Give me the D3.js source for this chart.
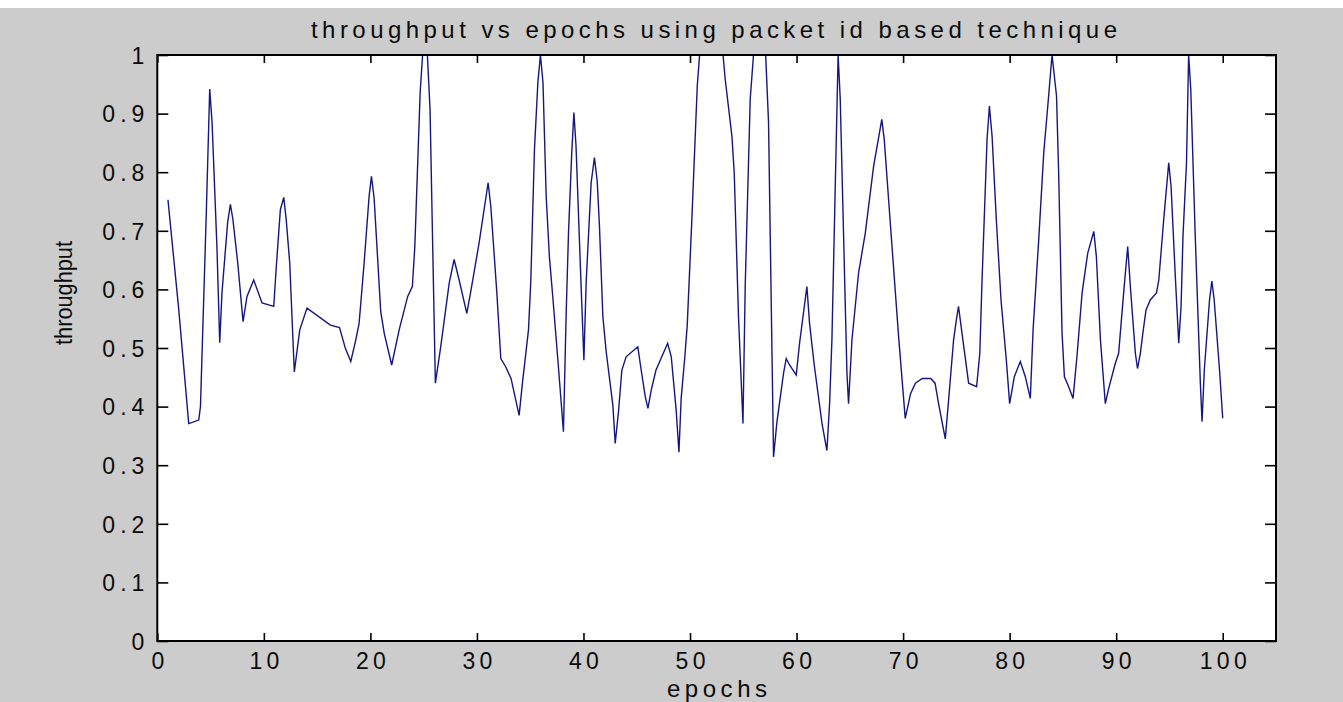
<!DOCTYPE html>
<html>
<head>
<meta charset="utf-8">
<script src="https://cdn.jsdelivr.net/npm/d3@7"></script>
<style>
  html, body { margin: 0; padding: 0; background: #cccccc; }
  svg { display: block; }
  text { font-family: "Liberation Sans", Arial, sans-serif; fill: #0a0a0a; }
</style>
</head>
<body>
<svg id="chart" width="1343" height="702"></svg>
<script>
const titleText = "throughput vs epochs using packet id based technique";
const xLabelText = "epochs";
const yLabelText = "throughput";

const xTicks = [0, 10, 20, 30, 40, 50, 60, 70, 80, 90, 100];
const xTickLabels = ["0", "10", "20", "30", "40", "50", "60", "70", "80", "90", "100"];
const yTicks = [0, 0.1, 0.2, 0.3, 0.4, 0.5, 0.6, 0.7, 0.8, 0.9, 1];
const yTickLabels = ["0", "0.1", "0.2", "0.3", "0.4", "0.5", "0.6", "0.7", "0.8", "0.9", "1"];

const epochs = [
  1.0, 2.0, 2.95, 3.89, 4.05, 4.6, 4.92, 5.14, 5.6, 5.86,
  6.07, 6.6, 6.86, 7.1, 7.55, 8.05, 8.42, 9.05, 9.83, 10.93,
  11.17, 11.55, 11.87, 12.1, 12.43, 12.86, 13.37, 14.05, 16.25, 17.1,
  17.66, 18.16, 18.63, 18.94, 19.4, 19.88, 20.1, 20.35, 20.97, 21.3,
  22.0, 22.7, 23.5, 23.94, 24.17, 24.67, 24.9, 25.35, 25.6, 25.8,
  26.1, 26.6, 27.4, 27.86, 28.33, 29.05, 29.4, 30.2, 31.05, 31.3,
  31.87, 32.24, 32.7, 33.2, 33.96, 34.27, 34.84, 35.06, 35.4, 35.72,
  35.96, 36.2, 36.5, 36.8, 37.13, 37.6, 38.12, 38.38, 38.6, 38.9,
  39.1, 39.3, 39.72, 40.04, 40.25, 40.72, 41.03, 41.29, 41.5, 41.82,
  42.13, 42.76, 42.98, 43.3, 43.6, 44.0, 45.1, 45.42, 45.8, 46.05,
  46.36, 46.8, 47.9, 48.24, 48.7, 48.96, 49.17, 49.5, 49.74, 50.2,
  50.68, 50.9, 53.1, 53.3, 53.93, 54.15, 54.55, 54.97, 55.18, 55.65,
  55.96, 57.1, 57.37, 57.84, 58.16, 58.78, 59.03, 59.34, 59.97, 60.28,
  60.97, 61.22, 61.66, 62.39, 62.85, 63.1, 63.32, 63.9, 64.1, 64.73,
  64.88, 65.2, 65.82, 66.45, 67.23, 68.0, 68.23, 68.8, 69.58, 70.2,
  70.7, 71.15, 71.8, 72.6, 73.0, 73.33, 73.96, 74.27, 74.74, 75.0,
  75.2, 75.53, 76.15, 76.9, 77.2, 77.4, 77.88, 78.1, 78.35, 78.75,
  79.19, 79.69, 80.0, 80.44, 81.0, 81.47, 81.94, 82.2, 82.73, 83.2,
  83.66, 83.98, 84.4, 84.6, 84.92, 85.14, 85.54, 85.95, 86.33, 86.8,
  87.33, 87.9, 88.14, 88.52, 88.98, 89.3, 89.92, 90.23, 90.7, 91.08,
  91.33, 91.8, 92.0, 92.27, 92.5, 92.8, 93.2, 93.78, 94.0, 94.46,
  94.93, 95.15, 95.55, 95.87, 96.09, 96.27, 96.6, 96.8, 97.0, 97.42,
  97.9, 98.06, 98.27, 98.76, 98.98, 99.2, 99.7, 100.0
];

const throughput = [
  0.753, 0.568, 0.371, 0.377, 0.400, 0.731, 0.942, 0.885, 0.671, 0.509,
  0.594, 0.714, 0.745, 0.719, 0.645, 0.545, 0.588, 0.616, 0.577, 0.571,
  0.639, 0.736, 0.757, 0.719, 0.645, 0.459, 0.531, 0.568, 0.539, 0.535,
  0.499, 0.477, 0.514, 0.542, 0.642, 0.759, 0.793, 0.756, 0.562, 0.525,
  0.471, 0.531, 0.588, 0.605, 0.673, 0.936, 1.0, 1.0, 0.907, 0.719,
  0.440, 0.502, 0.611, 0.651, 0.616, 0.559, 0.594, 0.679, 0.782, 0.742,
  0.594, 0.482, 0.468, 0.448, 0.385, 0.440, 0.531, 0.616, 0.839, 0.953,
  1.0, 0.953, 0.759, 0.656, 0.585, 0.479, 0.357, 0.562, 0.699, 0.833,
  0.902, 0.845, 0.634, 0.479, 0.611, 0.782, 0.825, 0.785, 0.708, 0.554,
  0.494, 0.402, 0.337, 0.394, 0.462, 0.485, 0.502, 0.462, 0.417, 0.397,
  0.428, 0.462, 0.508, 0.485, 0.394, 0.322, 0.414, 0.482, 0.539, 0.731,
  0.947, 1.0, 1.0, 0.959, 0.862, 0.799, 0.554, 0.371, 0.605, 0.925,
  1.0, 1.0, 0.885, 0.314, 0.374, 0.457, 0.482, 0.471, 0.454, 0.508,
  0.605, 0.542, 0.471, 0.371, 0.325, 0.405, 0.514, 1.0, 0.925, 0.457,
  0.405, 0.514, 0.628, 0.696, 0.810, 0.890, 0.856, 0.713, 0.519, 0.380,
  0.422, 0.440, 0.448, 0.448, 0.440, 0.405, 0.345, 0.411, 0.514, 0.548,
  0.571, 0.525, 0.440, 0.434, 0.491, 0.611, 0.856, 0.913, 0.862, 0.719,
  0.582, 0.479, 0.405, 0.451, 0.477, 0.451, 0.414, 0.531, 0.685, 0.833,
  0.930, 1.0, 0.930, 0.799, 0.525, 0.451, 0.434, 0.414, 0.488, 0.594,
  0.662, 0.699, 0.656, 0.514, 0.405, 0.431, 0.474, 0.491, 0.594, 0.673,
  0.605, 0.491, 0.465, 0.491, 0.525, 0.565, 0.582, 0.594, 0.616, 0.719,
  0.816, 0.776, 0.622, 0.508, 0.571, 0.691, 0.816, 1.0, 0.942, 0.691,
  0.440, 0.374, 0.462, 0.582, 0.614, 0.582, 0.462, 0.380
];

const svg = d3.select("#chart");
const W = 1343, H = 702;
const plot = { left: 157.3, right: 1276, top: 55, bottom: 641 };

svg.append("rect").attr("x", 0).attr("y", 0).attr("width", W).attr("height", H).attr("fill", "#cccccc");
svg.append("rect").attr("x", 0).attr("y", 0).attr("width", W).attr("height", 8).attr("fill", "#ffffff");

const x = d3.scaleLinear().domain([0, 105]).range([plot.left, plot.right]);
const y = d3.scaleLinear().domain([0, 1]).range([plot.bottom, plot.top]);

svg.append("rect")
  .attr("x", plot.left).attr("y", plot.top)
  .attr("width", plot.right - plot.left).attr("height", plot.bottom - plot.top)
  .attr("fill", "#ffffff");

const line = d3.line()
  .x((d, i) => x(epochs[i]))
  .y((d) => y(d));

svg.append("path")
  .datum(throughput)
  .attr("d", line)
  .attr("fill", "none")
  .attr("stroke", "#161680")
  .attr("stroke-width", 1.4)
  .attr("stroke-linejoin", "miter");

function styleAxis(g) {
  g.select(".domain").remove();
  g.selectAll(".tick line").attr("stroke", "#000").attr("stroke-width", 1.6);
}

const fmtX = (d) => xTickLabels[xTicks.indexOf(d)];
const fmtY = (d) => yTickLabels[yTicks.indexOf(d)];
const FS = 23;

function labelWidth(s, gap) {
  return s.split("").reduce((a, c) => a + (c === "." ? 0.278 : 0.556), 0) * FS + gap * (s.length - 1);
}

const gx = svg.append("g").attr("transform", `translate(0,${plot.bottom})`)
  .call(d3.axisBottom(x).tickValues(xTicks).tickSizeInner(-8).tickSizeOuter(0).tickPadding(0).tickFormat(fmtX));
styleAxis(gx);
gx.selectAll(".tick text")
  .attr("y", 28).attr("dy", 0)
  .attr("font-size", FS)
  .attr("fill", "#0a0a0a")
  .attr("font-family", "Liberation Sans, Arial, sans-serif")
  .each(function () {
    const t = d3.select(this);
    t.attr("textLength", labelWidth(t.text(), 4.3)).attr("lengthAdjust", "spacing");
  });

const gxTop = svg.append("g").attr("transform", `translate(0,${plot.top})`)
  .call(d3.axisTop(x).tickValues(xTicks).tickSizeInner(-8).tickSizeOuter(0).tickFormat(""));
styleAxis(gxTop);

const gy = svg.append("g").attr("transform", `translate(${plot.left},0)`)
  .call(d3.axisLeft(y).tickValues(yTicks).tickSizeInner(-11).tickSizeOuter(0).tickPadding(0).tickFormat(fmtY));
styleAxis(gy);
gy.selectAll(".tick text")
  .attr("x", -13).attr("dy", "0.36em")
  .attr("font-size", FS)
  .attr("fill", "#0a0a0a")
  .attr("font-family", "Liberation Sans, Arial, sans-serif")
  .each(function () {
    const t = d3.select(this);
    t.attr("textLength", labelWidth(t.text(), 5)).attr("lengthAdjust", "spacing");
  });

const gyRight = svg.append("g").attr("transform", `translate(${plot.right},0)`)
  .call(d3.axisRight(y).tickValues(yTicks).tickSizeInner(-11).tickSizeOuter(0).tickFormat(""));
styleAxis(gyRight);

svg.append("rect")
  .attr("x", plot.left).attr("y", plot.top)
  .attr("width", plot.right - plot.left).attr("height", plot.bottom - plot.top)
  .attr("fill", "none").attr("stroke", "#000").attr("stroke-width", 2);

svg.append("text")
  .attr("x", 714).attr("y", 38)
  .attr("text-anchor", "middle")
  .attr("font-size", 24)
  .attr("textLength", 806).attr("lengthAdjust", "spacing")
  .text(titleText);

svg.append("text")
  .attr("x", 717).attr("y", 697)
  .attr("text-anchor", "middle")
  .attr("font-size", 24)
  .attr("textLength", 100).attr("lengthAdjust", "spacing")
  .text(xLabelText);

svg.append("text")
  .attr("transform", "translate(72,293) rotate(-90)")
  .attr("text-anchor", "middle")
  .attr("font-size", 23)
  .attr("textLength", 104).attr("lengthAdjust", "spacingAndGlyphs")
  .text(yLabelText);
</script>
</body>
</html>
